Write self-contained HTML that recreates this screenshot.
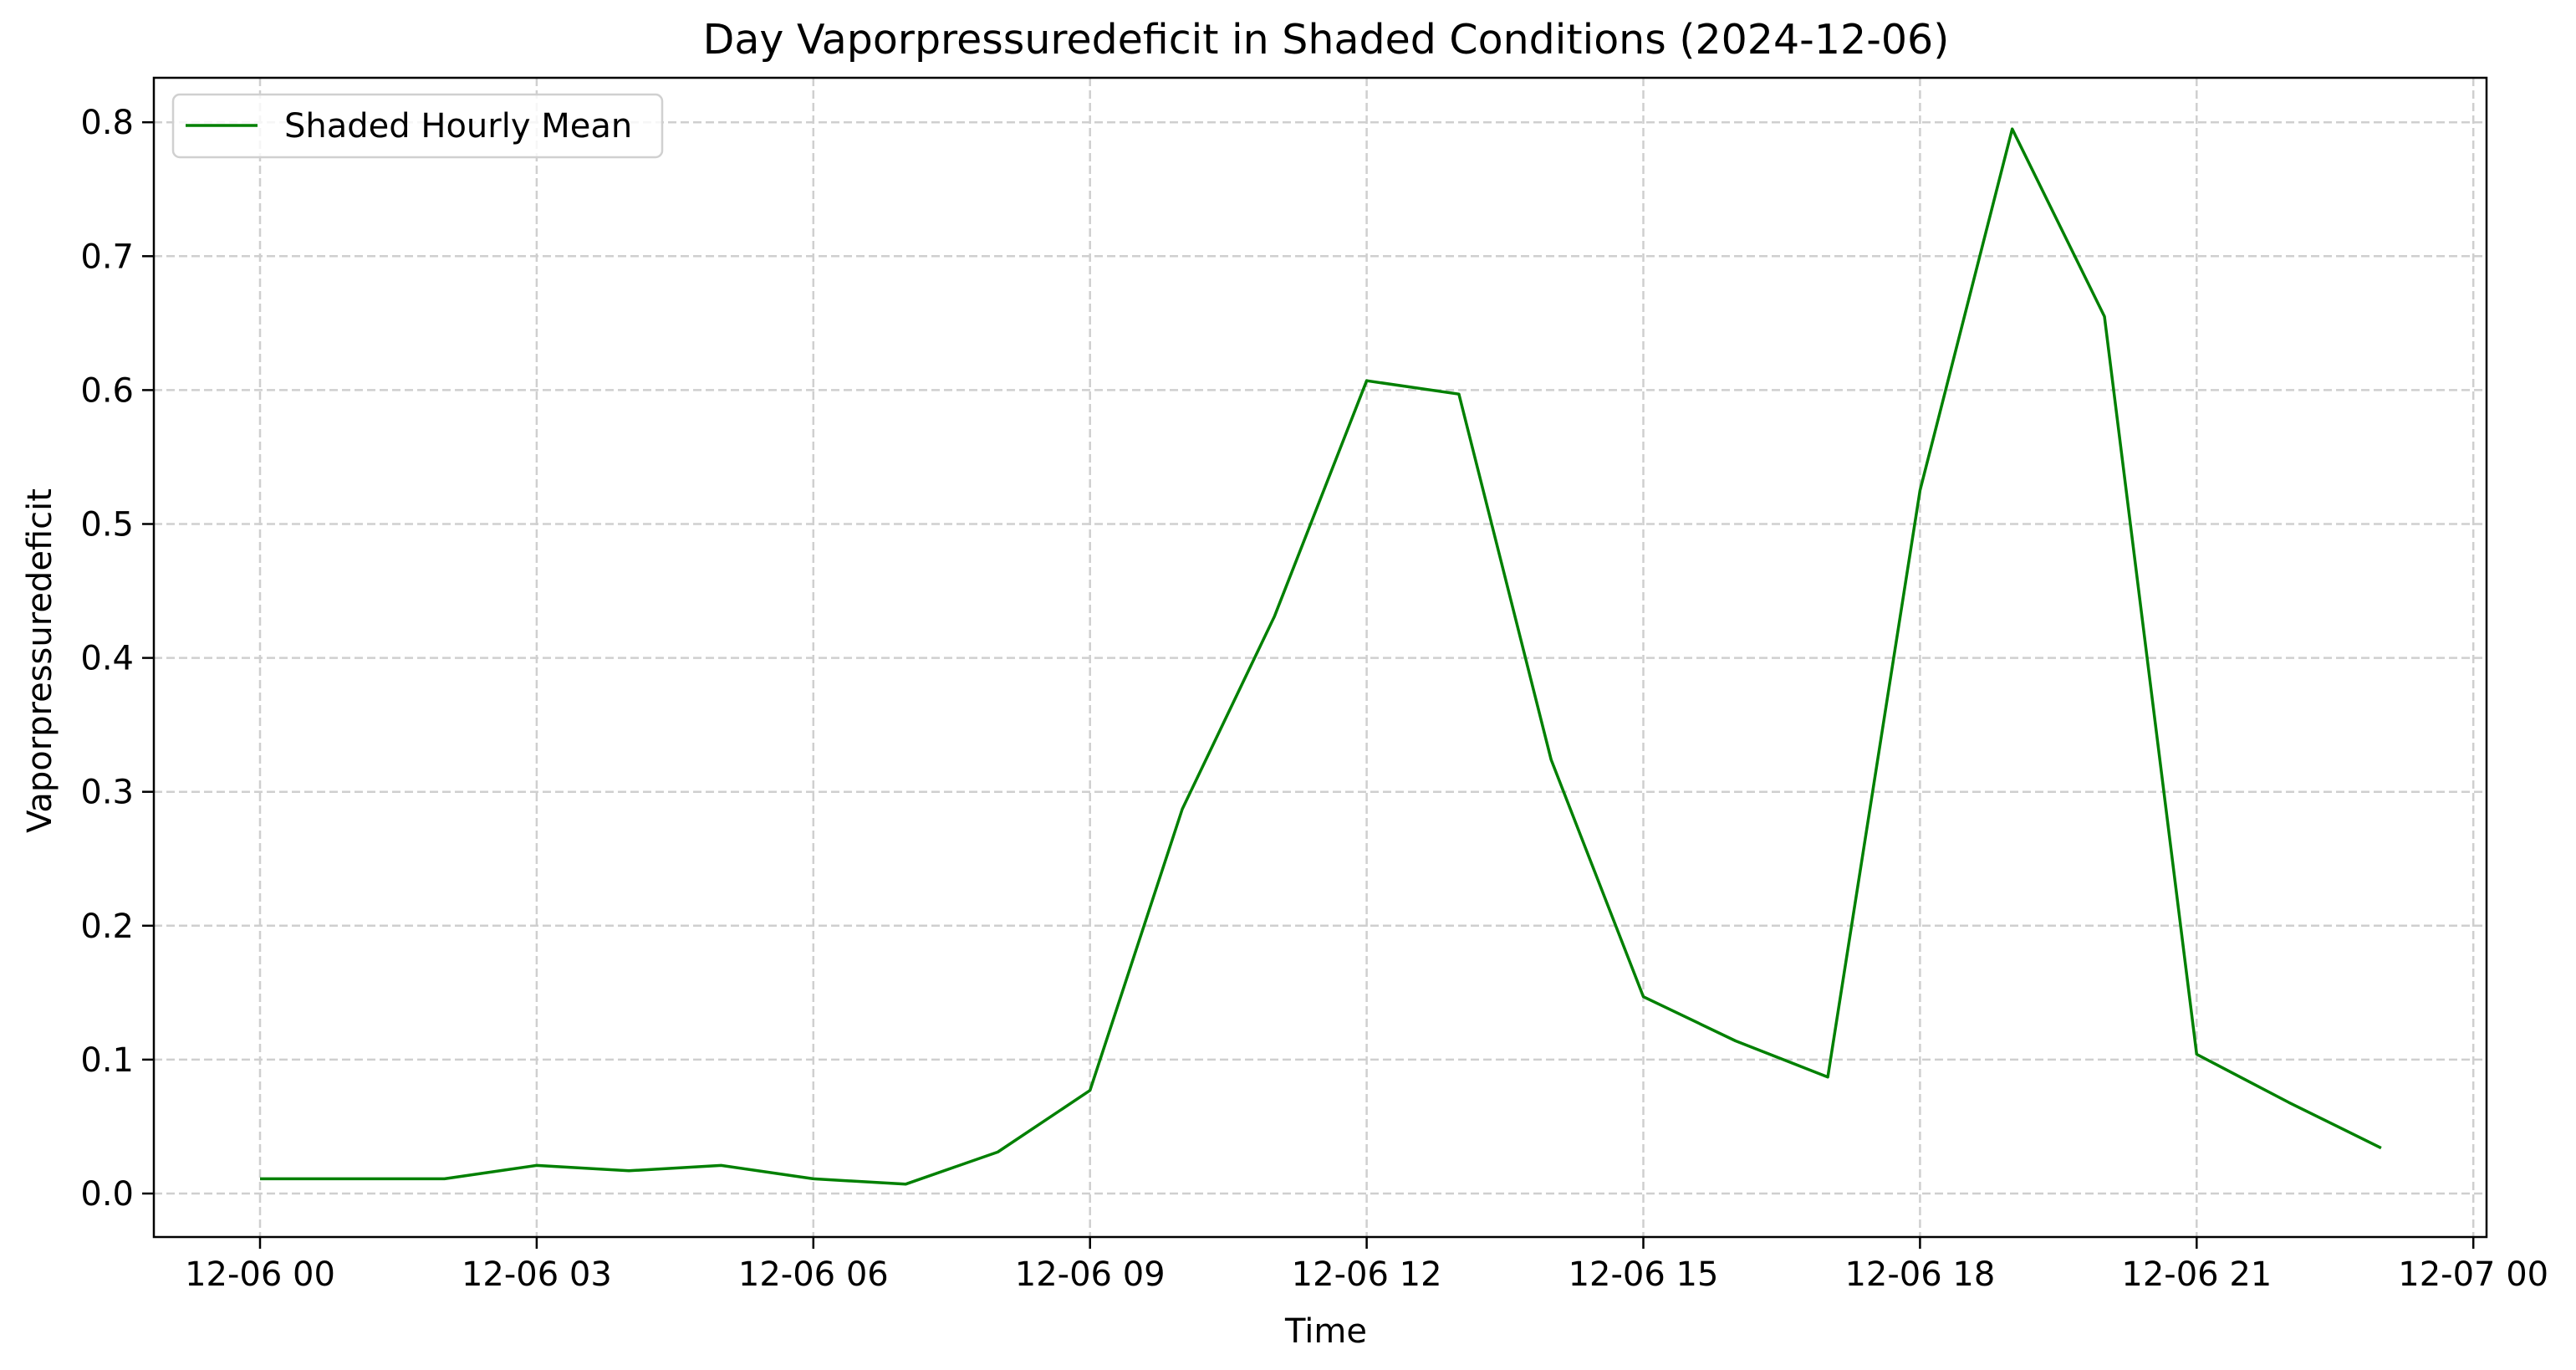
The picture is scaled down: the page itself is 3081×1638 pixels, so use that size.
<!DOCTYPE html>
<html><head><meta charset="utf-8"><style>
html,body{margin:0;padding:0;background:#fff}
svg{display:block}
text{font-family:"DejaVu Sans","Liberation Sans",sans-serif;fill:#000}
</style></head><body>
<svg id="chart" width="3081" height="1638" viewBox="0 0 3081 1638">
<text x="1586" y="64" font-size="49" text-anchor="middle">Day Vaporpressuredeficit in Shaded Conditions (2024-12-06)</text>
<g id="grid"></g>
<g id="series"></g>
<rect x="184" y="93" width="2790" height="1386" fill="none" stroke="#000" stroke-width="2.5"/>
<g id="axes"></g>
<text x="1586" y="1605" font-size="40" text-anchor="middle">Time</text>
<text transform="translate(61,790) rotate(-90)" font-size="40" text-anchor="middle">Vaporpressuredeficit</text>
<g>
<rect x="207" y="113" width="585" height="75" rx="8" fill="#fff" fill-opacity="0.8" stroke="#d0d0d0" stroke-width="2.5"/>
<line x1="222" y1="150" x2="308" y2="150" stroke="#008000" stroke-width="3.5"/>
<text x="340" y="164" font-size="40">Shaded Hourly Mean</text>
</g>
</svg>
<script>
const hours = [0,1,2,3,4,5,6,7,8,9,10,11,12,13,14,15,16,17,18,19,20,21,22,23];
const values = [0.011,0.011,0.011,0.021,0.017,0.021,0.011,0.007,0.031,0.077,0.287,0.431,0.607,0.597,0.324,0.147,0.114,0.087,0.525,0.795,0.655,0.104,0.068,0.034];
const xTickHours = [0,3,6,9,12,15,18,21,24];
const xTickLabels = ["12-06 00","12-06 03","12-06 06","12-06 09","12-06 12","12-06 15","12-06 18","12-06 21","12-07 00"];
const yTicks = [0,0.1,0.2,0.3,0.4,0.5,0.6,0.7,0.8];
const yTickLabels = ["0.0","0.1","0.2","0.3","0.4","0.5","0.6","0.7","0.8"];

const L=184,R=2974,T=93,B=1479;
const xS = h => 311 + h*110.3;
const yS = v => 1427 - v*1601;
const NS="http://www.w3.org/2000/svg";
const grid=document.getElementById('grid'), axes=document.getElementById('axes'), series=document.getElementById('series');
function mk(tag,attrs,parent){const e=document.createElementNS(NS,tag);for(const k in attrs)e.setAttribute(k,attrs[k]);parent.appendChild(e);return e;}

xTickHours.forEach((h,i)=>{
  const x=xS(h);
  const g=mk('line',{x1:x,y1:T,x2:x,y2:B,stroke:'#cfcfcf','stroke-width':2.5,'stroke-dasharray':'10,5'},grid);
  
  
  const t=mk('line',{x1:x,y1:B,x2:x,y2:B+14,stroke:'#000','stroke-width':2.5},axes);
  
  
  const l=mk('text',{x:x,y:B+58,'font-size':40,'text-anchor':'middle'},axes);
  l.textContent=xTickLabels[i];
  
  
});
yTicks.forEach((v,i)=>{
  const y=yS(v);
  const g=mk('line',{x1:L,y1:y,x2:R,y2:y,stroke:'#cfcfcf','stroke-width':2.5,'stroke-dasharray':'10,5'},grid);
  
  
  const t=mk('line',{x1:L-14,y1:y,x2:L,y2:y,stroke:'#000','stroke-width':2.5},axes);
  
  
  const l=mk('text',{x:L-24,y:y+14,'font-size':40,'text-anchor':'end'},axes);
  l.textContent=yTickLabels[i];
  
  
});
const pts=hours.map((h,i)=>xS(h)+','+yS(values[i])).join(' ');
const pl=mk('polyline',{points:pts,fill:'none',stroke:'#008000','stroke-width':3.5,'stroke-linejoin':'round'},series);


</script>
</body></html>
